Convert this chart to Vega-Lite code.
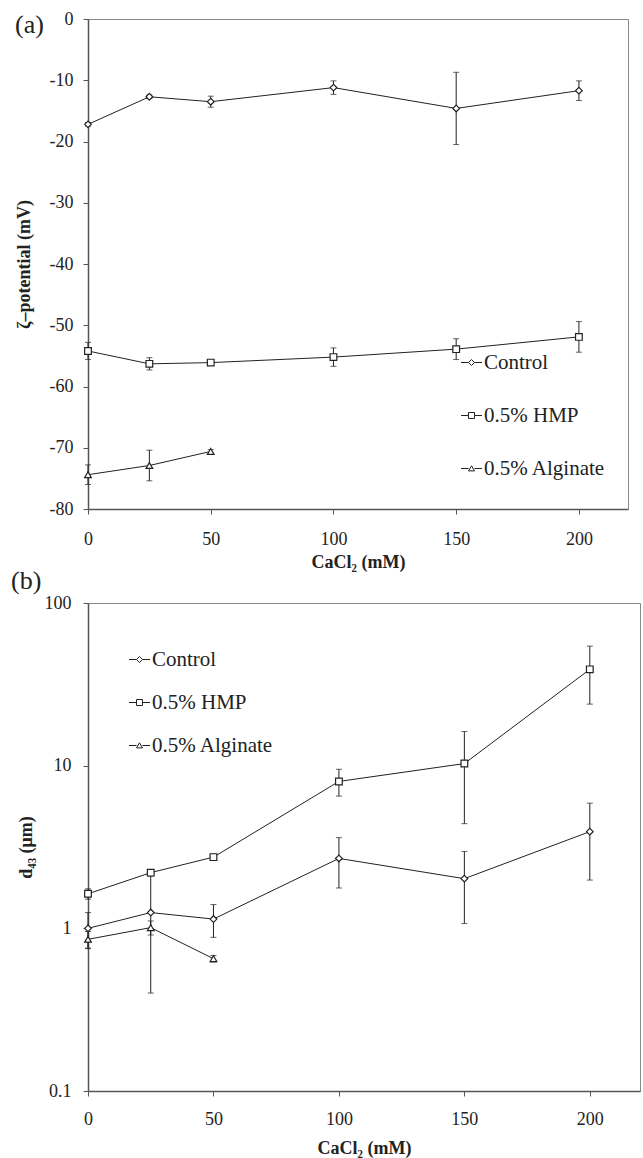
{
  "$schema": "https://vega.github.io/schema/vega-lite/v6.json",
  "padding": {"left": 10, "top": 9, "right": 0, "bottom": 0},
  "background": "white",
  "spacing": -5,
  "config": {
    "font": "Liberation Serif",
    "view": {"stroke": "#888", "strokeWidth": 1},
    "axis": {"grid": false, "domainColor": "#555", "domainWidth": 1.5, "tickColor": "#555", "tickSize": 5, "labelFont": "Liberation Serif", "labelFontSize": 18, "labelColor": "#222", "titleFont": "Liberation Serif", "titleFontSize": 18, "titleFontWeight": "bold", "titleColor": "#222", "labelFlush": false, "labelOverlap": false},
    "title": {"font": "Liberation Serif", "fontSize": 26, "fontWeight": "normal", "color": "#222"}
  },
  "datasets": {
    "zeta": [
      {"CaCl2": 0, "series": "Control", "value": -17.2, "err": 0.3},
      {"CaCl2": 25, "series": "Control", "value": -12.7, "err": 0.3},
      {"CaCl2": 50, "series": "Control", "value": -13.5, "err": 0.9},
      {"CaCl2": 100, "series": "Control", "value": -11.2, "err": 1.1},
      {"CaCl2": 150, "series": "Control", "value": -14.6, "err": 5.9},
      {"CaCl2": 200, "series": "Control", "value": -11.7, "err": 1.6},
      {"CaCl2": 0, "series": "0.5% HMP", "value": -54.2, "err": 1.4},
      {"CaCl2": 25, "series": "0.5% HMP", "value": -56.3, "err": 1.0},
      {"CaCl2": 50, "series": "0.5% HMP", "value": -56.1, "err": 0.3},
      {"CaCl2": 100, "series": "0.5% HMP", "value": -55.2, "err": 1.5},
      {"CaCl2": 150, "series": "0.5% HMP", "value": -53.9, "err": 1.7},
      {"CaCl2": 200, "series": "0.5% HMP", "value": -51.9, "err": 2.5},
      {"CaCl2": 0, "series": "0.5% Alginate", "value": -74.4, "err": 1.6},
      {"CaCl2": 25, "series": "0.5% Alginate", "value": -72.9, "err": 2.5},
      {"CaCl2": 50, "series": "0.5% Alginate", "value": -70.6, "err": 0.3}
    ],
    "d43": [
      {"CaCl2": 0, "series": "Control", "value": 1.0, "err": 0.25},
      {"CaCl2": 25, "series": "Control", "value": 1.25, "err": 0.85},
      {"CaCl2": 50, "series": "Control", "value": 1.14, "err": 0.26},
      {"CaCl2": 100, "series": "Control", "value": 2.69, "err": 0.92},
      {"CaCl2": 150, "series": "Control", "value": 2.02, "err": 0.95},
      {"CaCl2": 200, "series": "Control", "value": 3.93, "err": 1.95},
      {"CaCl2": 0, "series": "0.5% HMP", "value": 1.63, "err": 0.12},
      {"CaCl2": 25, "series": "0.5% HMP", "value": 2.2, "err": 0.1},
      {"CaCl2": 50, "series": "0.5% HMP", "value": 2.74, "err": 0.12},
      {"CaCl2": 100, "series": "0.5% HMP", "value": 8.0, "err": 1.5},
      {"CaCl2": 150, "series": "0.5% HMP", "value": 10.3, "err": 5.9},
      {"CaCl2": 200, "series": "0.5% HMP", "value": 39.1, "err": 15.2},
      {"CaCl2": 0, "series": "0.5% Alginate", "value": 0.856, "err": 0.1},
      {"CaCl2": 25, "series": "0.5% Alginate", "value": 1.01, "err": 0.1},
      {"CaCl2": 50, "series": "0.5% Alginate", "value": 0.651, "err": 0.03}
    ]
  },
  "vconcat": [
    {
      "width": 540,
      "height": 490,
      "title": {"text": "(a)", "anchor": "start", "frame": "bounds", "offset": -28, "dx": 0},
      "data": {"name": "zeta"},
      "encoding": {
        "x": {"field": "CaCl2", "type": "quantitative", "scale": {"domain": [0, 220], "nice": false}, "axis": {"values": [0, 50, 100, 150, 200], "title": "CaCl₂ (mM)", "labelPadding": 16, "titlePadding": 5}},
        "y": {"field": "value", "type": "quantitative", "scale": {"domain": [-80, 0], "nice": false, "zero": false}, "axis": {"values": [-80, -70, -60, -50, -40, -30, -20, -10, 0], "labelExpr": "replace(datum.label, '\u2212', '-')", "title": "ζ–potential (mV)", "labelPadding": 10, "titlePadding": 16}}
      },
      "layer": [
        {"mark": {"type": "line", "color": "#222", "strokeWidth": 1}, "encoding": {"detail": {"field": "series"}}},
        {"mark": {"type": "errorbar", "ticks": {"size": 6}, "color": "#222"}, "encoding": {"yError": {"field": "err"}}},
        {"mark": {"type": "point", "filled": true, "fill": "white", "stroke": "#222", "strokeWidth": 1.2, "size": 45, "opacity": 1},
         "encoding": {"shape": {"field": "series", "type": "nominal", "scale": {"domain": ["Control", "0.5% HMP", "0.5% Alginate"], "range": ["diamond", "square", "triangle-up"]}, "legend": null}}},
        {"transform": [{"filter": "false"}],
         "mark": {"type": "point", "filled": false, "color": "#222", "strokeWidth": 1, "opacity": 1},
         "encoding": {"shape": {"field": "series", "type": "nominal",
           "scale": {"domain": ["Control", "0.5% HMP", "0.5% Alginate"], "range": ["M-3.5,0L-1,0M1,0L3.5,0M-1,0L0,-1L1,0L0,1Z", "M-3.5,0L-1,0M1,0L3.5,0M-1,-1L1,-1L1,1L-1,1Z", "M-3.5,0L-1,0M1,0L3.5,0M-1,0.8L0,-0.9L1,0.8Z"]},
           "legend": {"title": null, "orient": "none", "legendX": 373, "legendY": 333, "labelFontSize": 21, "labelFont": "Liberation Serif", "labelColor": "#222", "symbolSize": 36, "symbolStrokeWidth": 1, "symbolStrokeColor": "#222", "symbolFillColor": "white", "symbolOpacity": 1, "labelOffset": 2, "rowPadding": 31}}}}
      ],
      "resolve": {"scale": {"shape": "independent"}}
    },
    {
      "width": 552,
      "height": 488,
      "title": {"text": "(b)", "anchor": "start", "frame": "bounds", "offset": 0, "dx": -6},
      "data": {"name": "d43"},
      "encoding": {
        "x": {"field": "CaCl2", "type": "quantitative", "scale": {"domain": [0, 220], "nice": false}, "axis": {"values": [0, 50, 100, 150, 200], "title": "CaCl₂ (mM)", "labelPadding": 14, "titlePadding": 11}},
        "y": {"field": "value", "type": "quantitative", "scale": {"type": "log", "domain": [0.1, 100], "nice": false}, "axis": {"values": [0.1, 1, 10, 100], "format": "~g", "title": "d₄₃ (μm)", "labelPadding": 12, "titlePadding": 9}}
      },
      "layer": [
        {"mark": {"type": "line", "color": "#222", "strokeWidth": 1}, "encoding": {"detail": {"field": "series"}}},
        {"mark": {"type": "errorbar", "ticks": {"size": 6}, "color": "#222"}, "encoding": {"yError": {"field": "err"}}},
        {"mark": {"type": "point", "filled": true, "fill": "white", "stroke": "#222", "strokeWidth": 1.2, "size": 45, "opacity": 1},
         "encoding": {"shape": {"field": "series", "type": "nominal", "scale": {"domain": ["Control", "0.5% HMP", "0.5% Alginate"], "range": ["diamond", "square", "triangle-up"]}, "legend": null}}},
        {"transform": [{"filter": "false"}],
         "mark": {"type": "point", "filled": false, "color": "#222", "strokeWidth": 1, "opacity": 1},
         "encoding": {"shape": {"field": "series", "type": "nominal",
           "scale": {"domain": ["Control", "0.5% HMP", "0.5% Alginate"], "range": ["M-3.5,0L-1,0M1,0L3.5,0M-1,0L0,-1L1,0L0,1Z", "M-3.5,0L-1,0M1,0L3.5,0M-1,-1L1,-1L1,1L-1,1Z", "M-3.5,0L-1,0M1,0L3.5,0M-1,0.8L0,-0.9L1,0.8Z"]},
           "legend": {"title": null, "orient": "none", "legendX": 41, "legendY": 46, "labelFontSize": 21, "labelFont": "Liberation Serif", "labelColor": "#222", "symbolSize": 36, "symbolStrokeWidth": 1, "symbolStrokeColor": "#222", "symbolFillColor": "white", "symbolOpacity": 1, "labelOffset": 2, "rowPadding": 21}}}}
      ],
      "resolve": {"scale": {"shape": "independent"}}
    }
  ],
  "resolve": {"scale": {"shape": "independent", "x": "independent", "y": "independent"}, "legend": {"shape": "independent"}}
}
